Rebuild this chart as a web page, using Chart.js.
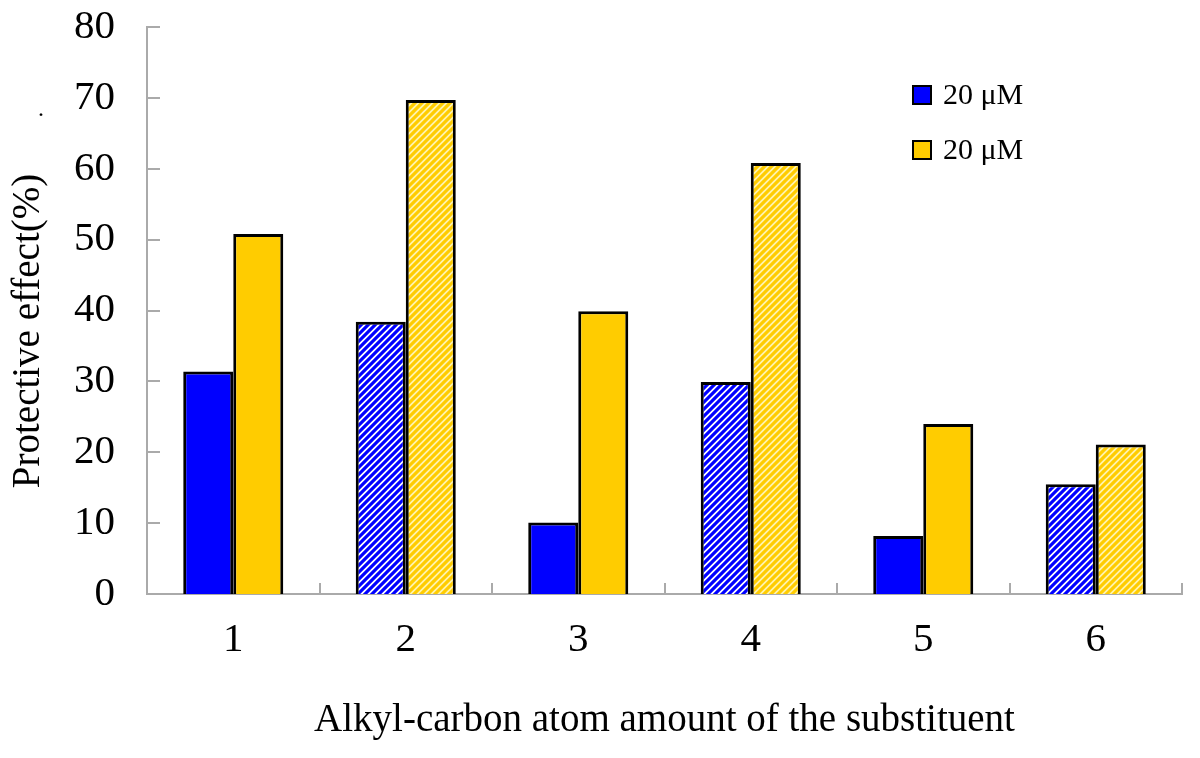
<!DOCTYPE html>
<html>
<head>
<meta charset="utf-8">
<script src="https://cdn.jsdelivr.net/npm/chart.js@4/dist/chart.umd.min.js"></script>
<style>
  html, body { margin: 0; padding: 0; background: #fff; }
  #wrap { width: 1200px; height: 758px; position: relative; }
</style>
</head>
<body>
<div id="wrap"><canvas id="barChart" width="1200" height="758"></canvas></div>
<script>
/* data */
var categories = ["1", "2", "3", "4", "5", "6"];
var blueValues = [31.4, 38.4, 10.1, 29.9, 8.2, 15.5];
var yellowValues = [50.8, 69.7, 39.9, 60.8, 24.0, 21.1];
var hatched = [false, true, false, true, false, true];
var seriesLabels = ["20 \u03bcM", "20 \u03bcM"];
var yMin = 0, yMax = 80, yStep = 10;

var BLUE = "#0000FF";
var YELLOW = "#FFCC00";
var AXIS = "#aaaaaa";
var FONT = "'Liberation Serif', 'Times New Roman', serif";

function makeHatch(fg, bg) {
    var s = 7;
    var c = document.createElement("canvas");
    c.width = s; c.height = s;
    var g = c.getContext("2d");
    g.fillStyle = bg;
    g.fillRect(0, 0, s, s);
    g.strokeStyle = fg;
    g.lineWidth = 3.2;
    g.beginPath();
    g.moveTo(-s, s); g.lineTo(s, -s);
    g.moveTo(0, s); g.lineTo(s, 0);
    g.moveTo(0, 2 * s); g.lineTo(2 * s, 0);
    g.stroke();
    return document.getElementById("barChart").getContext("2d").createPattern(c, "repeat");
}

// axis ticks drawn inward, y title, and the legend inside the plot
var axisPlugin = {
    id: "axisPlugin",
    afterDraw: function (chart) {
        var ctx = chart.ctx;
        var x = chart.scales.x, y = chart.scales.y;
        var area = chart.chartArea;
        ctx.save();
        ctx.strokeStyle = AXIS;
        ctx.lineWidth = 2;
        ctx.beginPath();
        for (var v = yMin; v <= yMax; v += yStep) {
            var py = Math.round(y.getPixelForValue(v));
            ctx.moveTo(area.left, py);
            ctx.lineTo(area.left + 13, py);
        }
        for (var i = 1; i <= categories.length; i++) {
            var px = Math.round(x.getPixelForValue(i - 0.5));
            ctx.moveTo(px, area.bottom);
            ctx.lineTo(px, area.bottom - 11);
        }
        ctx.stroke();

        // legend
        var lx = 913, ly = [86, 141];
        chart.data.datasets.forEach(function (ds, k) {
            ctx.fillStyle = ds.legendColor;
            ctx.fillRect(lx, ly[k], 18, 18);
            ctx.strokeStyle = "#000";
            ctx.lineWidth = 2;
            ctx.strokeRect(lx, ly[k], 18, 18);
            ctx.fillStyle = "#000";
            ctx.font = "30px " + FONT;
            ctx.textBaseline = "middle";
            ctx.fillText(ds.label, 943, ly[k] + 10);
        });

        // y axis title
        ctx.save();
        ctx.translate(29, 331);
        ctx.rotate(-Math.PI / 2);
        ctx.font = "39px " + FONT;
        ctx.textAlign = "center";
        ctx.textBaseline = "middle";
        ctx.fillText("Protective effect(%)", 0, 0);
        ctx.restore();

        ctx.font = "24px " + FONT;
        ctx.textAlign = "left";
        ctx.fillText(".", 38, 110);
        ctx.restore();
    }
};

window.onload = function () {
    var ctx = document.getElementById("barChart").getContext("2d");
    var blueHatch = makeHatch(BLUE, "#ffffff");
    var yellowHatch = makeHatch(YELLOW, "#FFF3B0");

    var barChartData = {
        labels: categories,
        datasets: [
            {
                label: seriesLabels[0],
                legendColor: BLUE,
                backgroundColor: hatched.map(function (h) { return h ? blueHatch : BLUE; }),
                borderColor: "#000",
                borderWidth: 3,
                data: blueValues
            },
            {
                label: seriesLabels[1],
                legendColor: YELLOW,
                backgroundColor: hatched.map(function (h) { return h ? yellowHatch : YELLOW; }),
                borderColor: "#000",
                borderWidth: 3,
                data: yellowValues
            }
        ]
    };

    window.myBar = new Chart(ctx, {
        type: "bar",
        data: barChartData,
        options: {
            responsive: false,
            animation: false,
            barPercentage: 1.0,
            categoryPercentage: 0.58,
            layout: { padding: { top: 27, right: 18, left: 0, bottom: 0 } },
            plugins: {
                legend: { display: false },
                tooltip: { enabled: false }
            },
            scales: {
                x: {
                    grid: { display: false, drawTicks: false },
                    border: { display: true, color: AXIS, width: 2 },
                    ticks: { color: "#000", padding: 22, font: { family: FONT, size: 41 } },
                    title: {
                        display: true,
                        text: "Alkyl-carbon atom amount of the substituent",
                        color: "#000",
                        font: { family: FONT, size: 39 },
                        padding: { top: 0, bottom: 14 }
                    },
                    afterFit: function (scale) {
                        scale.height = 164;
                        scale.paddingLeft = 0;
                        scale.paddingRight = 0;
                    }
                },
                y: {
                    min: yMin,
                    max: yMax,
                    grid: { display: false, drawTicks: false },
                    border: { display: true, color: AXIS, width: 2 },
                    ticks: { stepSize: yStep, color: "#000", padding: 32, font: { family: FONT, size: 41 } },
                    afterFit: function (scale) {
                        scale.width = 147;
                        scale.paddingTop = 0;
                        scale.paddingBottom = 0;
                    }
                }
            }
        },
        plugins: [axisPlugin]
    });
};
</script>
</body>
</html>
